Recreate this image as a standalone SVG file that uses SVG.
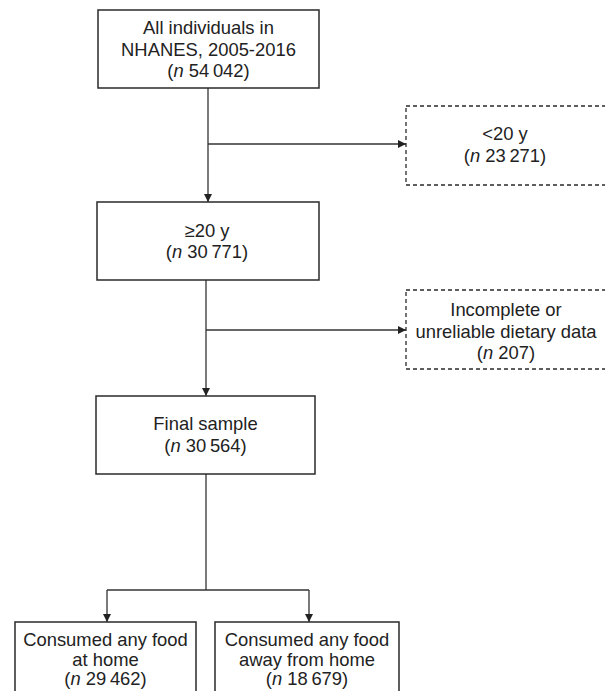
<svg xmlns="http://www.w3.org/2000/svg" width="605" height="691" viewBox="0 0 605 691">
<style>
  .box { fill: #ffffff; stroke: #2a2a2a; stroke-width: 1.5; }
  .dash { fill: #ffffff; stroke: #2a2a2a; stroke-width: 1.3; stroke-dasharray: 4 3; }
  .t { font-family: "Liberation Sans", Arial, sans-serif; font-size: 18.4px; fill: #222222; text-anchor: middle; }
  .ln { fill: none; stroke: #333333; stroke-width: 1.3; }
</style>
<defs>
  <marker id="arr" viewBox="0 0 10 10" refX="10" refY="5" markerWidth="8" markerHeight="8" markerUnits="userSpaceOnUse" orient="auto">
    <path d="M0,0 L10,5 L0,10 Z" fill="#222222"/>
  </marker>
</defs>
<rect width="605" height="691" fill="#ffffff"/>
<g id="connectors">
  <line class="ln" x1="208" y1="88" x2="208" y2="202" marker-end="url(#arr)"/>
  <line class="ln" x1="208" y1="144" x2="406" y2="144" marker-end="url(#arr)"/>
  <line class="ln" x1="206" y1="280" x2="206" y2="396" marker-end="url(#arr)"/>
  <line class="ln" x1="206" y1="330" x2="406" y2="330" marker-end="url(#arr)"/>
  <line class="ln" x1="206" y1="474" x2="206" y2="590"/>
  <line class="ln" x1="107" y1="590" x2="309" y2="590"/>
  <line class="ln" x1="107" y1="590" x2="107" y2="622" marker-end="url(#arr)"/>
  <line class="ln" x1="309" y1="590" x2="309" y2="622" marker-end="url(#arr)"/>
</g>
<g id="node-all">
  <rect class="box" x="98" y="10" width="221" height="78"/>
  <text class="t" x="208.5" y="34">All individuals in</text>
  <text class="t" x="208.5" y="56">NHANES, 2005-2016</text>
  <text class="t" x="208.5" y="77">(<tspan font-style="italic">n</tspan> 54&#8201;042)</text>
</g>
<g id="node-under20">
  <rect class="dash" x="406" y="106" width="204" height="79"/>
  <text class="t" x="505" y="140">&lt;20 y</text>
  <text class="t" x="505" y="162">(<tspan font-style="italic">n</tspan> 23&#8201;271)</text>
</g>
<g id="node-adults">
  <rect class="box" x="97" y="202" width="222" height="78"/>
  <text class="t" x="207" y="237">≥20 y</text>
  <text class="t" x="207" y="258">(<tspan font-style="italic">n</tspan> 30&#8201;771)</text>
</g>
<g id="node-incomplete">
  <rect class="dash" x="406" y="290" width="204" height="79"/>
  <text class="t" x="506" y="316">Incomplete or</text>
  <text class="t" x="506" y="338">unreliable dietary data</text>
  <text class="t" x="506" y="359">(<tspan font-style="italic">n</tspan> 207)</text>
</g>
<g id="node-final">
  <rect class="box" x="96" y="396" width="219" height="78"/>
  <text class="t" x="205.5" y="430">Final sample</text>
  <text class="t" x="205.5" y="452">(<tspan font-style="italic">n</tspan> 30&#8201;564)</text>
</g>
<g id="node-home">
  <rect class="box" x="15" y="622" width="181" height="80"/>
  <text class="t" x="105.5" y="646">Consumed any food</text>
  <text class="t" x="105.5" y="666">at home</text>
  <text class="t" x="105.5" y="685">(<tspan font-style="italic">n</tspan> 29&#8201;462)</text>
</g>
<g id="node-away">
  <rect class="box" x="215" y="622" width="184" height="80"/>
  <text class="t" x="307" y="646">Consumed any food</text>
  <text class="t" x="307" y="666">away from home</text>
  <text class="t" x="307" y="685">(<tspan font-style="italic">n</tspan> 18&#8201;679)</text>
</g>
</svg>
